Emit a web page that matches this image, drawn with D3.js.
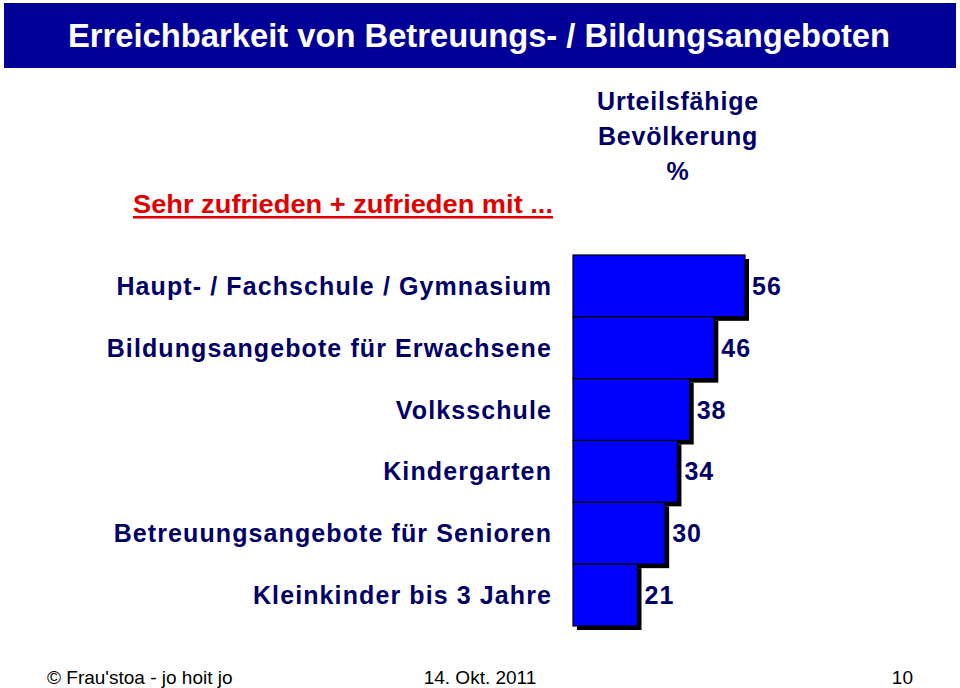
<!DOCTYPE html>
<html><head><meta charset="utf-8">
<script src="https://cdn.jsdelivr.net/npm/d3@7"></script>
<style>body{margin:0;background:#fff}svg{display:block}text{font-family:"Liberation Sans",Arial,sans-serif}</style>
</head><body>
<script>
const categories = ["Haupt- / Fachschule / Gymnasium","Bildungsangebote für Erwachsene","Volksschule","Kindergarten","Betreuungsangebote für Senioren","Kleinkinder bis 3 Jahre"];
const values = [56,46,38,34,30,21];
const titleText = "Erreichbarkeit von Betreuungs- / Bildungsangeboten";
const questionText = "Sehr zufrieden + zufrieden mit ...";
const headerLines = ["Urteilsfähige","Bevölkerung","%"];
const footerTexts = ["© Frau'stoa - jo hoit jo","14. Okt. 2011","10"];

const W=960,H=688;
const svg=d3.select("body").append("svg").attr("width",W).attr("height",H);
const navy="#000066";

// title band
svg.append("rect").attr("x",4).attr("y",3).attr("width",952).attr("height",65).attr("fill","#000099");
svg.append("text").attr("x",479).attr("y",47).attr("text-anchor","middle").attr("fill","#fff")
  .attr("font-weight","bold").attr("font-size",33).attr("textLength",822).attr("lengthAdjust","spacingAndGlyphs").text(titleText);

// column header
svg.selectAll("text.hdr").data(headerLines).join("text").attr("class","hdr")
  .attr("x",678).attr("y",(d,i)=>110+i*35).attr("text-anchor","middle")
  .attr("fill",navy).attr("font-weight","bold").attr("font-size",25).attr("letter-spacing",0.8).text(d=>d);

// question
svg.append("text").attr("x",133).attr("y",213).attr("fill","#e00000").attr("font-weight","bold")
  .attr("font-size",25).attr("textLength",420).attr("lengthAdjust","spacingAndGlyphs").text(questionText);
svg.append("rect").attr("x",133).attr("y",216).attr("width",420).attr("height",2.5).attr("fill","#e00000");

const x=d3.scaleLinear().domain([0,56]).range([573,745]);
const y=d3.scaleBand().domain(categories).range([255,626]).padding(0);
const data=categories.map((c,i)=>({c,v:values[i]}));

const g=svg.append("g");
g.selectAll("rect.sh").data(data).join("rect").attr("class","sh")
  .attr("x",x(0)+4).attr("y",d=>y(d.c)+4).attr("width",d=>x(d.v)-x(0)).attr("height",y.bandwidth())
  .attr("fill","#000");
g.selectAll("rect.bar").data(data).join("rect").attr("class","bar")
  .attr("x",x(0)).attr("y",d=>y(d.c)).attr("width",d=>x(d.v)-x(0)).attr("height",y.bandwidth())
  .attr("fill","#0000ff").attr("stroke","#000").attr("stroke-width",1.2);

g.selectAll("text.val").data(data).join("text").attr("class","val")
  .attr("x",d=>x(d.v)+7).attr("y",d=>y(d.c)+y.bandwidth()/2+9)
  .attr("fill",navy).attr("font-weight","bold").attr("font-size",25).attr("letter-spacing",1).text(d=>d.v);

g.selectAll("text.cat").data(data).join("text").attr("class","cat")
  .attr("x",552).attr("y",d=>y(d.c)+y.bandwidth()/2+9).attr("text-anchor","end")
  .attr("fill",navy).attr("font-weight","bold").attr("font-size",25).attr("letter-spacing",1.1).text(d=>d.c);

// footer
svg.append("text").attr("x",47).attr("y",684).attr("font-size",19).attr("fill","#000").text(footerTexts[0]);
svg.append("text").attr("x",480).attr("y",684).attr("text-anchor","middle").attr("font-size",19).attr("fill","#000").text(footerTexts[1]);
svg.append("text").attr("x",913).attr("y",684).attr("text-anchor","end").attr("font-size",19).attr("fill","#000").text(footerTexts[2]);
</script>
</body></html>
